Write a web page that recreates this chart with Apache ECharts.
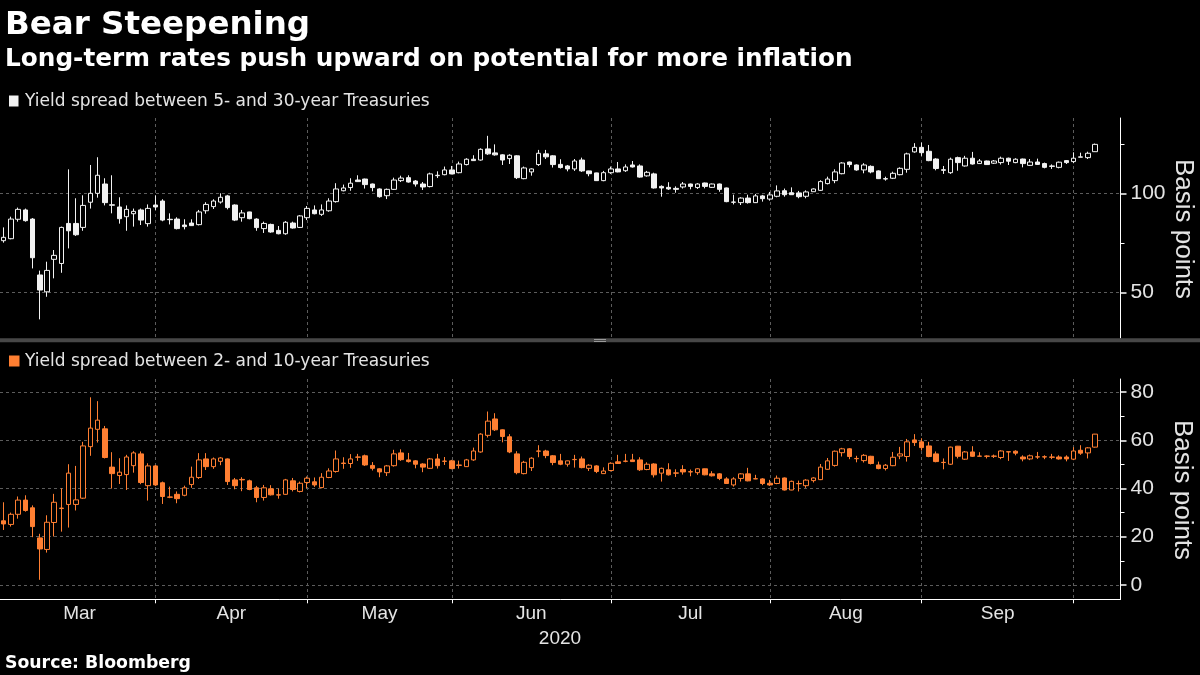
<!DOCTYPE html>
<html><head><meta charset="utf-8">
<script src="https://cdn.jsdelivr.net/npm/echarts@6/dist/echarts.min.js"></script>
<style>html,body{margin:0;padding:0;background:#000}#c{width:1200px;height:675px}</style>
</head><body><div id="c"></div>
<script>
// Trading days shown on the category axis (last three October slots are empty padding)
const tradingDays = {
  '2020-03': [3,4,5,6,9,10,11,12,13,16,17,18,19,20,23,24,25,26,27,30,31],
  '2020-04': [1,2,3,6,7,8,9,13,14,15,16,17,20,21,22,23,24,27,28,29,30],
  '2020-05': [1,4,5,6,7,8,11,12,13,14,15,18,19,20,21,22,26,27,28,29],
  '2020-06': [1,2,3,4,5,8,9,10,11,12,15,16,17,18,19,22,23,24,25,26,29,30],
  '2020-07': [1,2,6,7,8,9,10,13,14,15,16,17,20,21,22,23,24,27,28,29,30,31],
  '2020-08': [3,4,5,6,7,10,11,12,13,14,17,18,19,20,21,24,25,26,27,28,31],
  '2020-09': [1,2,3,4,8,9,10,11,14,15,16,17,18,21,22,23,24,25,28,29,30],
  '2020-10': [1,2,5,6,7,8,9]
};
const monthLabels = ['Mar','Apr','May','Jun','Jul','Aug','Sep'];
const topTickLabels = [50, 100];
const topMinorTicks = [75, 125];
const bottomTickLabels = [0, 20, 40, 60, 80];
const bottomMinorTicks = [10, 30, 50, 70];

// [open, close, low, high] in basis points
const spread5s30s = [
[76.1,77.8,75.1,82.8],[77.1,87.0,76.8,88.2],[86.9,91.9,85.7,92.8],[91.6,86.2,85.7,92.3],[87.0,67.5,62.1,87.5],
[58.8,51.2,36.4,61.0],[50.3,61.1,47.8,65.5],[66.7,68.7,57.1,71.4],[64.6,82.8,59.9,83.2],[84.8,81.1,72.2,112.1],
[84.8,79.1,78.5,97.5],[82.8,93.9,81.1,99.0],[95.5,100.0,92.3,114.3],[100.0,109.1,97.8,118.2],[104.7,95.3,93.9,107.6],
[94.2,94.0,89.9,109.1],[93.1,87.2,84.7,98.0],[88.2,91.9,81.1,93.9],[89.7,90.9,83.2,92.3],[91.6,86.5,84.0,92.3],
[84.7,92.4,83.2,94.4],[94.1,93.1,91.6,99.0],[96.1,86.5,85.9,97.0],[86.9,86.7,84.3,89.9],[87.0,82.2,81.8,87.9],
[84.0,83.2,81.8,86.9],[85.0,83.7,83.5,86.9],[84.2,90.6,83.8,91.6],[91.2,94.4,89.7,95.5],[93.3,96.1,92.1,97.0],
[95.6,98.0,94.8,100.0],[98.7,92.8,91.9,99.2],[94.1,86.5,86.0,94.4],[87.7,90.1,85.7,91.6],[90.6,87.2,86.9,90.7],
[87.0,82.7,81.1,87.4],[82.2,84.8,80.0,85.7],[84.3,80.5,80.1,84.7],[81.3,79.6,79.3,83.5],[79.6,85.4,79.1,86.0],
[85.0,82.5,82.2,85.7],[82.8,88.6,82.5,89.0],[87.7,92.4,86.5,93.6],[91.6,89.7,89.4,93.9],[89.4,91.6,88.6,94.4],
[91.2,96.1,90.7,97.5],[95.8,102.2,95.3,105.1],[101.3,102.7,101.0,104.4],[102.9,105.1,101.3,107.6],[106.7,105.9,105.7,109.1],
[107.2,104.4,102.4,107.4],[104.7,102.9,101.0,104.9],[102.2,98.3,97.8,102.5],[98.8,102.0,97.1,102.4],[102.0,106.7,101.7,107.9],
[106.4,107.7,105.7,108.9],[107.9,105.7,105.4,109.1],[106.2,104.7,103.4,106.7],[104.7,103.2,101.7,105.7],[103.4,109.8,103.0,110.4],
[108.9,109.1,107.7,111.1],[109.4,111.8,109.1,113.5],[111.8,109.8,109.6,113.8],[110.4,114.8,110.1,116.0],[114.5,117.2,114.1,117.7],
[117.2,116.5,116.3,119.2],[116.8,122.2,116.5,122.7],[122.4,119.9,119.4,129.0],[120.4,119.4,119.0,124.7],[119.4,116.8,114.3,119.7],
[117.5,119.2,114.8,119.7],[118.9,107.9,107.2,119.2],[107.4,112.8,107.1,113.5],[110.8,112.3,108.9,112.6],[114.5,120.2,113.8,121.9],
[119.9,118.4,117.3,121.9],[118.9,114.5,113.0,119.2],[114.6,113.0,112.5,117.2],[113.8,112.3,111.1,114.3],[112.3,116.3,111.3,117.3],
[116.8,111.3,110.8,118.0],[111.3,109.9,108.6,111.4],[110.3,106.4,106.2,110.4],[106.4,110.4,106.1,111.3],[110.4,112.3,109.8,113.5],
[112.3,110.8,110.6,115.8],[111.4,113.3,110.8,114.6],[114.3,113.3,113.0,116.3],[113.8,108.2,107.9,114.6],[108.8,110.6,108.4,111.3],
[109.8,102.7,102.4,110.4],[103.5,102.7,98.3,104.0],[103.0,102.2,101.7,105.6],[102.5,102.0,100.3,103.5],[103.2,104.7,102.4,105.7],
[104.7,103.5,102.0,104.9],[102.9,104.7,102.2,105.1],[105.2,103.5,102.5,105.4],[103.0,104.7,102.7,104.9],[104.7,102.0,100.8,104.9],
[102.7,95.8,95.5,102.9],[95.6,95.5,94.4,99.3],[95.3,97.6,94.1,98.0],[97.6,95.3,94.8,99.3],[95.3,98.7,95.1,99.7],
[98.7,97.3,95.8,99.2],[97.1,99.2,96.3,100.7],[98.5,101.2,98.0,104.0],[101.3,99.3,98.3,102.4],[100.3,99.3,99.2,103.0],
[100.2,98.3,97.5,101.2],[98.5,100.7,97.5,101.5],[100.8,102.2,100.7,102.5],[101.5,105.9,101.2,106.6],[104.9,107.2,104.5,108.4],
[106.4,110.8,105.1,112.1],[109.9,115.3,109.6,115.7],[115.8,114.5,113.1,116.0],[114.3,111.8,111.4,114.6],[111.8,114.3,110.1,115.2],
[113.6,110.8,110.1,114.1],[111.3,107.4,107.2,111.6],[107.4,107.2,106.4,108.4],[107.6,110.1,107.2,110.9],[109.4,112.6,109.1,113.1],
[112.1,119.9,110.4,120.5],[120.9,123.2,120.5,125.3],[123.2,120.5,118.9,125.6],[121.2,116.5,116.2,124.4],[117.3,112.5,111.6,117.7],
[111.9,111.6,109.8,113.8],[110.4,117.2,109.8,118.0],[118.0,115.5,111.4,118.5],[113.8,117.7,113.5,118.9],[117.7,114.8,114.5,120.9],
[115.0,116.3,114.8,117.3],[116.3,114.5,114.3,116.5],[115.2,116.3,114.8,116.8],[115.5,117.7,114.5,118.5],[117.7,116.2,114.3,118.0],
[115.5,117.2,115.2,117.7],[117.3,115.0,113.1,117.5],[114.1,115.8,113.8,117.3],[115.8,114.6,114.3,117.5],[115.0,113.1,112.6,115.5],
[113.8,113.6,112.3,114.6],[113.1,115.7,112.6,116.0],[116.5,115.5,114.8,116.8],[116.0,117.7,115.2,120.7],[118.2,118.4,118.2,120.5],
[118.0,120.2,117.3,121.0],[121.0,124.7,120.9,125.1]
];

const spread2s10s = [
[26.6,25.3,22.8,34.3],[25.1,29.3,24.2,30.0],[29.3,35.2,27.5,36.7],[35.2,30.9,30.4,37.2],[32.0,24.2,19.8,33.0],
[19.5,14.9,2.1,21.2],[14.7,26.0,13.4,28.9],[25.9,34.3,20.1,37.8],[31.7,31.9,22.1,40.1],[33.4,46.4,23.8,50.1],
[33.4,35.3,30.9,49.4],[36.0,57.7,35.7,59.4],[57.4,65.1,53.6,77.9],[64.6,68.4,59.1,76.3],[64.8,52.9,52.5,66.0],
[48.9,46.2,40.0,55.1],[45.4,46.8,41.9,52.6],[45.8,53.1,39.4,54.0],[49.5,54.8,46.6,55.5],[54.4,42.5,41.8,55.4],
[41.2,49.4,35.0,50.5],[49.4,41.5,41.1,49.8],[42.4,36.7,33.6,42.9],[36.5,36.4,36.0,40.8],[37.6,35.8,33.9,38.8],
[37.2,40.3,36.8,41.2],[41.7,44.7,40.3,49.1],[44.6,51.9,44.0,54.7],[52.3,49.1,47.7,54.7],[49.1,52.3,48.2,52.9],
[51.3,52.7,49.7,53.0],[52.3,42.9,41.5,52.5],[43.6,41.2,39.7,44.4],[43.8,43.6,38.9,44.7],[43.2,39.6,39.3,43.7],
[40.3,36.3,34.3,41.1],[36.3,40.3,35.0,41.5],[39.9,37.4,37.1,41.4],[37.4,37.3,35.8,40.0],[37.6,43.6,37.4,44.0],
[43.2,39.6,38.8,44.4],[38.8,42.2,38.4,42.9],[42.5,44.3,40.1,45.0],[42.8,41.5,40.7,44.6],[40.4,44.7,40.1,46.4],
[44.6,47.3,44.3,48.4],[47.1,52.3,46.6,55.8],[50.6,50.4,48.2,53.0],[50.4,52.3,48.6,54.3],[53.0,53.1,51.5,54.4],
[53.6,49.8,49.4,54.1],[49.6,48.4,47.5,51.0],[48.2,46.9,44.7,48.4],[46.6,49.4,45.2,49.8],[49.5,54.4,49.1,56.1],
[54.8,52.0,51.5,56.3],[51.9,51.2,50.8,54.8],[51.5,50.1,48.4,51.8],[50.2,48.9,46.8,50.5],[48.4,52.3,48.2,52.7],
[52.3,49.5,48.3,54.4],[51.4,51.3,49.8,53.1],[51.5,48.3,48.0,51.9],[49.6,49.8,48.3,51.6],[49.1,51.9,49.0,52.3],
[51.9,55.6,51.5,57.0],[55.2,62.6,54.9,63.0],[62.1,68.0,61.2,72.0],[68.9,64.4,63.9,71.3],[64.4,61.6,59.2,64.6],
[61.5,55.2,54.7,62.6],[54.4,46.6,45.9,55.5],[46.2,50.9,45.9,51.5],[48.7,52.6,47.3,53.0],[55.5,55.6,53.0,58.0],
[55.6,53.7,52.6,56.1],[53.6,50.8,49.7,53.9],[51.5,50.1,49.7,54.4],[50.1,51.5,49.1,51.6],[52.0,52.1,48.7,54.0],
[52.3,48.7,48.4,53.3],[48.4,49.7,47.3,50.1],[49.4,47.1,46.4,49.7],[46.2,47.3,46.2,48.8],[47.5,50.5,47.1,50.9],
[51.1,50.4,50.2,54.0],[51.3,51.4,50.9,54.4],[51.9,51.2,51.1,54.4],[51.9,47.8,47.3,53.0],[47.9,50.1,47.6,50.9],
[50.2,45.7,44.6,50.5],[46.4,48.4,42.9,48.7],[47.8,45.7,45.4,50.5],[46.5,46.4,44.8,48.0],[47.9,46.9,45.8,49.7],
[47.0,46.9,45.1,47.9],[46.6,48.2,45.7,48.4],[48.2,45.7,45.5,48.3],[46.1,45.3,45.0,47.2],[46.1,44.2,43.5,46.4],
[44.0,42.1,41.9,44.7],[41.5,44.0,40.8,44.7],[44.2,46.1,42.9,46.4],[46.1,43.2,43.0,48.6],[44.0,44.1,43.9,45.7],
[44.0,42.1,41.4,44.3],[42.2,41.5,41.1,43.6],[42.1,44.3,41.8,45.4],[44.4,39.4,39.2,44.6],[39.4,43.0,39.3,43.3],
[42.1,42.0,38.8,43.3],[41.2,43.5,40.3,43.9],[43.3,44.4,42.5,44.7],[43.7,48.9,43.5,50.2],[48.0,51.5,47.8,52.7],
[49.6,55.5,49.1,55.8],[54.9,56.5,53.3,56.9],[56.5,53.3,52.2,56.8],[52.5,52.4,50.9,53.6],[51.6,53.8,50.8,54.3],
[53.4,50.4,50.0,53.6],[49.8,48.3,48.0,51.2],[48.3,49.7,47.5,50.2],[49.5,53.0,49.3,55.2],[53.5,54.4,52.2,57.3],
[53.3,59.4,51.2,60.6],[60.2,59.1,57.7,62.6],[59.4,57.0,55.8,60.9],[57.7,53.3,53.0,59.4],[54.4,51.2,50.9,55.4],
[50.9,50.8,48.0,52.5],[50.1,57.2,49.8,57.4],[57.6,53.4,52.5,57.7],[52.2,55.2,51.9,55.6],[55.2,53.4,53.1,57.6],
[53.4,53.5,53.3,55.1],[53.5,53.4,52.5,53.8],[53.4,53.5,52.7,54.1],[52.9,55.6,52.2,55.9],[55.3,55.2,51.5,55.4],
[55.5,54.7,53.8,55.9],[53.1,52.3,51.3,53.8],[52.3,53.6,51.8,54.1],[53.1,53.2,52.3,55.2],[53.2,53.1,52.2,53.8],
[53.1,53.0,52.2,54.4],[53.1,52.3,52.0,53.8],[53.1,52.3,51.3,53.8],[52.2,55.6,51.8,57.2],[55.9,54.7,54.0,58.0],
[54.8,56.9,52.5,57.2],[57.2,62.6,57.0,62.7]
];

// ---- derived category info ----
const categories = [];
Object.keys(tradingDays).forEach(m => tradingDays[m].forEach(d => categories.push(m + '-' + String(d).padStart(2, '0'))));
const monthStarts = [];
categories.forEach((c, i) => { if (i === 0 || c.slice(0, 7) !== categories[i - 1].slice(0, 7)) monthStarts.push(i); });
const monthStartSet = new Set(monthStarts.filter(i => i > 0));
const labelMap = {};
monthLabels.forEach((name, k) => {
  const mid = (monthStarts[k] + monthStarts[k + 1]) / 2;
  const idx = Math.floor(mid);
  labelMap[idx] = { name: name, half: mid - idx > 0 };
});

const WHITE = '#f2f2f2', ORANGE = '#ff7f32', GRIDC = '#5c5c5c', LABELC = '#e4e4e4';
const gridLeft = -3.4, gridWidth = 1123.9;

function xAxisCfg(gi, showAxis) {
  return {
    type: 'category', gridIndex: gi, data: categories, boundaryGap: true,
    axisLine: { show: showAxis, onZero: false, lineStyle: { color: '#ffffff', width: 1 } },
    axisTick: { show: showAxis, alignWithLabel: true, length: 4, lineStyle: { color: '#ffffff' },
      interval: (i) => monthStartSet.has(i) },
    axisLabel: { show: showAxis, interval: (i) => labelMap[i] !== undefined, margin: 5,
      color: LABELC, fontFamily: 'Liberation Sans', fontSize: 19,
      formatter: (v, i) => { const l = labelMap[i]; if (!l) return ''; return l.half ? '{h|' + l.name + '}' : '{n|' + l.name + '}'; },
      rich: { h: { padding: [0, 0, 0, 7.3], color: LABELC, fontFamily: 'Liberation Sans', fontSize: 19 },
              n: { color: LABELC, fontFamily: 'Liberation Sans', fontSize: 19 } } },
    splitLine: { show: true, alignWithLabel: true, interval: (i) => monthStartSet.has(i),
      lineStyle: { color: GRIDC, type: [3, 3], width: 1 } }
  };
}
function yAxisMajor(gi, min, max, labels) {
  return {
    type: 'value', gridIndex: gi, position: 'right', min: min, max: max,
    axisLine: { show: true, lineStyle: { color: '#ffffff', width: 1 } },
    axisTick: { show: true, customValues: labels, length: 6, inside: false, lineStyle: { color: '#ffffff', width: 1.5 } },
    axisLabel: { show: true, customValues: labels, margin: 10, color: LABELC, fontFamily: 'Liberation Sans', fontSize: 21 },
    splitLine: { show: true, lineStyle: { color: GRIDC, type: [3, 3], width: 1 } }
  };
}
function yAxisMinor(gi, min, max, ticks) {
  return {
    type: 'value', gridIndex: gi, position: 'right', min: min, max: max,
    axisLine: { show: false },
    axisTick: { show: true, customValues: ticks, length: 4, lineStyle: { color: '#ffffff', width: 1 } },
    axisLabel: { show: false },
    splitLine: { show: false }
  };
}
function candle(xi, yi, data, col) {
  return {
    type: 'candlestick', xAxisIndex: xi, yAxisIndex: yi, data: data, barWidth: 5, z: 3,
    itemStyle: { color: '#000000', color0: col, borderColor: col, borderColor0: col, borderColorDoji: col, borderWidth: 1 }
  };
}
function txt(text, x, y, font, fill, extra) {
  return Object.assign({ type: 'text', x: x, y: y, z: 100, silent: true,
    style: { text: text, font: font, fill: fill, align: 'left', verticalAlign: 'middle', textAlign: 'left', textVerticalAlign: 'middle' } }, extra || {});
}
function ctxt(text, x, y, font, fill, rot) {
  return { type: 'text', x: x, y: y, z: 100, silent: true, rotation: rot || 0,
    style: { text: text, font: font, fill: fill, align: 'center', verticalAlign: 'middle', textAlign: 'center', textVerticalAlign: 'middle' } };
}

const chart = echarts.init(document.getElementById('c'), null, { renderer: 'canvas' });
chart.setOption({
  backgroundColor: '#000000',
  animation: false,
  grid: [
    { left: gridLeft, top: 118, width: gridWidth, height: 220 },
    { left: gridLeft, top: 379, width: gridWidth, height: 220.3 }
  ],
  xAxis: [xAxisCfg(0, false), xAxisCfg(1, true)],
  yAxis: [
    yAxisMajor(0, 27, 138, topTickLabels), yAxisMinor(0, 27, 138, topMinorTicks),
    yAxisMajor(1, -6, 85.5, bottomTickLabels), yAxisMinor(1, -6, 85.5, bottomMinorTicks)
  ],
  series: [candle(0, 0, spread5s30s, WHITE), candle(1, 2, spread2s10s, ORANGE)],
  graphic: [
    txt('Bear Steepening', 5, 26, 'bold 32.5px "DejaVu Sans"', '#ffffff'),
    txt('Long-term rates push upward on potential for more inflation', 5, 60, 'bold 24.75px "DejaVu Sans"', '#ffffff'),
    { type: 'rect', z: 100, silent: true, shape: { x: 9, y: 95.5, width: 9.5, height: 11 }, style: { fill: WHITE } },
    txt('Yield spread between 5- and 30-year Treasuries', 25, 101.5, '17px "DejaVu Sans"', LABELC),
    { type: 'rect', z: 100, silent: true, shape: { x: 9, y: 355.5, width: 10.5, height: 11 }, style: { fill: ORANGE } },
    txt('Yield spread between 2- and 10-year Treasuries', 25, 361.5, '17px "DejaVu Sans"', LABELC),
    { type: 'rect', z: 100, silent: true, shape: { x: 0, y: 338.3, width: 1200, height: 4 }, style: { fill: '#474747' } },
    { type: 'line', z: 101, silent: true, shape: { x1: 594, y1: 339.5, x2: 606, y2: 339.5 }, style: { stroke: '#9a9a9a', lineWidth: 1 } },
    { type: 'line', z: 101, silent: true, shape: { x1: 594, y1: 341.5, x2: 606, y2: 341.5 }, style: { stroke: '#9a9a9a', lineWidth: 1 } },
    ctxt('Basis points', 1183, 229, '26px "Liberation Sans"', LABELC, -Math.PI / 2),
    ctxt('Basis points', 1182, 490, '26px "Liberation Sans"', LABELC, -Math.PI / 2),
    ctxt('2020', 560, 638.5, '19px "Liberation Sans"', LABELC, 0),
    txt('Source: Bloomberg', 5, 664, 'bold 17.3px "DejaVu Sans"', '#ffffff')
  ]
});
</script>
</body></html>
